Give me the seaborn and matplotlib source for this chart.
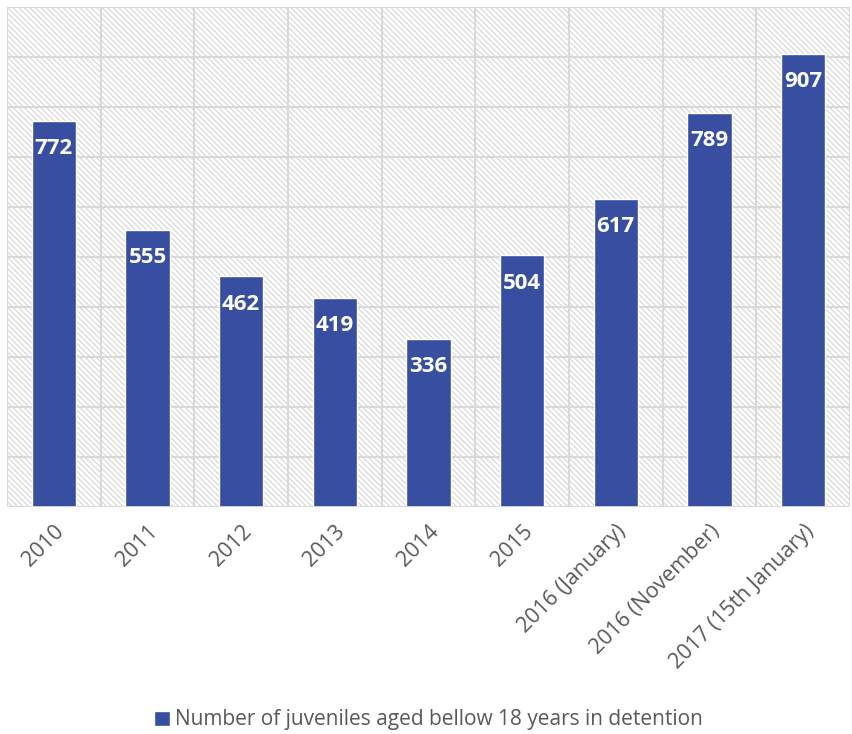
import pandas as pd
import seaborn as sns
import matplotlib.pyplot as plt
from matplotlib.patches import Rectangle

periods = ['2010', '2011', '2012', '2013', '2014', '2015',
           '2016 (January)', '2016 (November)', '2017 (15th January)']
juveniles = [772, 555, 462, 419, 336, 504, 617, 789, 907]
series_name = 'Number of juveniles aged bellow 18 years in detention'

df = pd.DataFrame({'period': periods, 'count': juveniles})

sns.set_style('white')
plt.rcParams['font.family'] = ['Open Sans', 'DejaVu Sans']
plt.rcParams['hatch.color'] = '#d6d6d6'
plt.rcParams['hatch.linewidth'] = 0.8

fig = plt.figure(figsize=(8.52, 7.34), dpi=100)
ax = fig.add_axes([7 / 852, 227 / 734, 843 / 852, 500 / 734])

# hatched plot area background
ax.add_patch(Rectangle((0, 0), 1, 1, transform=ax.transAxes, facecolor='white',
                       edgecolor='#d6d6d6', hatch='\\\\\\\\\\\\', linewidth=0, zorder=0))

sns.barplot(x='period', y='count', data=df, color='#384ea1', saturation=1,
            width=0.47, ax=ax, label=series_name, zorder=3)

ax.set_ylim(0, 1000)
ax.set_xlim(-0.5, len(periods) - 0.5)
ax.set_yticks(range(0, 1001, 100))
ax.set_yticklabels([])
ax.set_xticks([i + 0.5 for i in range(-1, len(periods))], minor=True)
ax.grid(True, which='major', axis='y', color='#d9d9d9', linewidth=1.5, zorder=1)
ax.grid(True, which='minor', axis='x', color='#d9d9d9', linewidth=1.5, zorder=1)
ax.tick_params(axis='both', which='both', length=0)
ax.set_axisbelow(True)
for s in ax.spines.values():
    s.set_visible(False)
ax.axhline(0, color='#d9d9d9', linewidth=2, zorder=4)

ax.set_xlabel('')
ax.set_ylabel('')
ax.set_xticks(range(len(periods)))
ax.set_xticklabels(periods, rotation=45, ha='right', rotation_mode='anchor',
                   fontsize=15.5, color='#595959')
ax.tick_params(axis='x', pad=10)

for i, v in enumerate(juveniles):
    ax.text(i, v - 56, str(v), ha='center', va='center', color='white',
            fontsize=16, fontweight='bold', zorder=5)

ax.legend(loc='center', bbox_to_anchor=(0.5, -0.426), frameon=False,
          fontsize=15, labelcolor='#595959', handlelength=0.75, handleheight=0.75,
          handletextpad=0.25)

fig.savefig('out.png', dpi=100)
